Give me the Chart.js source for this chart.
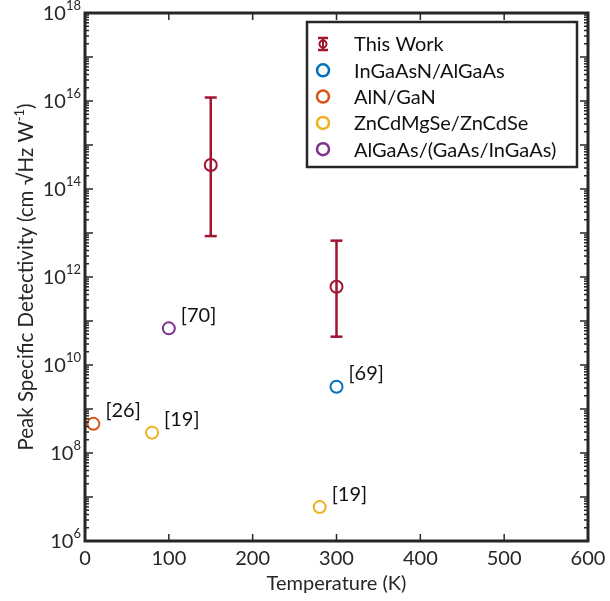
<!DOCTYPE html>
<html>
<head>
<meta charset="utf-8">
<script src="https://cdn.jsdelivr.net/npm/chart.js@4.4.1/dist/chart.umd.min.js"></script>
<style>
  html, body { margin: 0; padding: 0; background: #fff; }
</style>
</head>
<body>
<canvas id="chart" width="610" height="601"></canvas>
<script>
// values
const thisWorkTemp = [150, 300];
const thisWorkD = [3.5e14, 6.0e11];
const thisWorkLow = [8.5e12, 4.4e10];
const thisWorkHigh = [1.2e16, 6.7e12];

const inGaAsNTemp = [300];
const inGaAsND = [3.2e9];
const inGaAsNRefs = ['[69]'];

const alnTemp = [10];
const alnD = [4.6e8];
const alnRefs = ['[26]'];

const znTemp = [80, 280];
const znD = [2.9e8, 5.9e6];
const znRefs = ['[19]', '[19]'];

const alGaAsTemp = [100];
const alGaAsD = [6.8e10];
const alGaAsRefs = ['[70]'];

const seriesNames = ['This Work', 'InGaAsN/AlGaAs', 'AlN/GaN', 'ZnCdMgSe/ZnCdSe', 'AlGaAs/(GaAs/InGaAs)'];
const seriesColors = ['#A2142F', '#0072BD', '#D95319', '#EDB120', '#7E2F8E'];

const xTicks = [0, 100, 200, 300, 400, 500, 600];
const yLabelExps = [6, 8, 10, 12, 14, 16, 18];

const FONT = 'Lato, "Open Sans", sans-serif';
const INK = '#262626';

function fnt(size) {
    return size + 'px ' + FONT;
}

function pts(xs, ys) {
    return xs.map((t, i) => ({ x: t, y: ys[i] }));
}

function line(ctx, x1, y1, x2, y2) {
    ctx.beginPath();
    ctx.moveTo(x1, y1);
    ctx.lineTo(x2, y2);
    ctx.stroke();
}

function makeSet(i, xs, ys, extra) {
    return Object.assign({
        label: seriesNames[i],
        data: pts(xs, ys),
        borderColor: seriesColors[i],
        backgroundColor: 'rgba(0,0,0,0)',
        borderWidth: 2,
        pointRadius: 6,
        pointHoverRadius: 6,
        showLine: false
    }, extra || {});
}

// error bars drawn through the y scale
const errorBars = {
    id: 'errorBars',
    afterDatasetsDraw(chart) {
        const ctx = chart.ctx;
        const xs = chart.scales.x, ys = chart.scales.y;
        chart.data.datasets.forEach(ds => {
            if (!ds.errLow) return;
            ctx.save();
            ctx.strokeStyle = ds.borderColor;
            ctx.lineWidth = 2.5;
            ds.data.forEach((p, i) => {
                const px = xs.getPixelForValue(p.x);
                const top = ys.getPixelForValue(ds.errHigh[i]);
                const bot = ys.getPixelForValue(ds.errLow[i]);
                line(ctx, px, top, px, bot);
                line(ctx, px - 6, top, px + 6, top);
                line(ctx, px - 6, bot, px + 6, bot);
            });
            ctx.restore();
        });
    }
};

// frame, inward ticks, labels, legend, reference tags
const decor = {
    id: 'decor',
    afterDraw(chart) {
        const ctx = chart.ctx;
        const a = chart.chartArea;
        const xs = chart.scales.x, ys = chart.scales.y;
        ctx.save();

        // ticks
        ctx.strokeStyle = INK;
        ctx.lineWidth = 1.5;
        for (let e = 6; e < 18; e++) {
            for (let k = 1; k < 10; k++) {
                const py = ys.getPixelForValue(k * Math.pow(10, e));
                const len = k === 1 ? 8 : 4;
                line(ctx, a.left, py, a.left + len, py);
                line(ctx, a.right, py, a.right - len, py);
            }
        }
        xTicks.forEach(t => {
            const px = xs.getPixelForValue(t);
            line(ctx, px, a.bottom, px, a.bottom - 7);
            line(ctx, px, a.top, px, a.top + 7);
        });

        // frame
        ctx.lineWidth = 3;
        ctx.strokeRect(a.left, a.top, a.right - a.left, a.bottom - a.top);

        // tick labels
        ctx.fillStyle = INK;
        ctx.textBaseline = 'middle';
        ctx.textAlign = 'center';
        ctx.font = fnt(20);
        xTicks.forEach(t => {
            ctx.fillText(String(t), xs.getPixelForValue(t), a.bottom + 18);
        });
        yLabelExps.forEach(e => {
            const py = ys.getPixelForValue(Math.pow(10, e));
            ctx.font = fnt(13);
            const supW = ctx.measureText(String(e)).width;
            ctx.textAlign = 'right';
            ctx.fillText(String(e), a.left - 4, py - 7);
            ctx.font = fnt(20);
            ctx.fillText('10', a.left - 4 - supW, py + 1);
        });

        // axis titles
        ctx.textAlign = 'center';
        ctx.font = fnt(20);
        ctx.fillText('Temperature (K)', (a.left + a.right) / 2, a.bottom + 43);

        ctx.save();
        ctx.translate(26, (a.top + a.bottom) / 2);
        ctx.rotate(-Math.PI / 2);
        const main = 'Peak Specific Detectivity (cm \u221AHz W';
        ctx.font = fnt(20.5);
        const wMain = ctx.measureText(main).width;
        const wClose = ctx.measureText(')').width;
        ctx.font = fnt(13);
        const wSup = ctx.measureText('-1').width;
        let x0 = -(wMain + wSup + wClose) / 2;
        ctx.textAlign = 'left';
        ctx.font = fnt(20.5);
        ctx.fillText(main, x0, 0);
        ctx.font = fnt(13);
        ctx.fillText('-1', x0 + wMain, -6);
        ctx.font = fnt(20.5);
        ctx.fillText(')', x0 + wMain + wSup, 0);
        ctx.restore();

        // reference tags next to literature points
        ctx.fillStyle = '#111';
        ctx.font = fnt(20);
        ctx.textAlign = 'left';
        chart.data.datasets.forEach(ds => {
            if (!ds.refs) return;
            ds.data.forEach((p, i) => {
                ctx.fillText(ds.refs[i], xs.getPixelForValue(p.x) + 12, ys.getPixelForValue(p.y) - 13);
            });
        });

        // legend box
        const lx = 307, ly = 22, lw = 270, lh = 145;
        ctx.fillStyle = '#fff';
        ctx.fillRect(lx, ly, lw, lh);
        ctx.strokeStyle = INK;
        ctx.lineWidth = 2.5;
        ctx.strokeRect(lx, ly, lw, lh);
        chart.data.datasets.forEach((ds, i) => {
            const cy = 44 + i * 26.3;
            const mx = 323;
            ctx.strokeStyle = ds.borderColor;
            if (ds.errLow) {
                ctx.lineWidth = 2;
                line(ctx, mx, cy - 6, mx, cy + 6);
                ctx.lineWidth = 2.5;
                line(ctx, mx - 5, cy - 6, mx + 5, cy - 6);
                line(ctx, mx - 5, cy + 6, mx + 5, cy + 6);
                ctx.lineWidth = 2;
                ctx.beginPath();
                ctx.arc(mx, cy, 3.5, 0, Math.PI * 2);
                ctx.stroke();
            } else {
                ctx.lineWidth = 2.5;
                ctx.beginPath();
                ctx.arc(mx, cy, 6, 0, Math.PI * 2);
                ctx.stroke();
            }
            ctx.fillStyle = '#111';
            ctx.font = fnt(20);
            ctx.textAlign = 'left';
            ctx.fillText(ds.label, 354, cy + 1);
        });

        ctx.restore();
    }
};

new Chart(document.getElementById('chart'), {
    type: 'scatter',
    data: {
        datasets: [
            makeSet(0, thisWorkTemp, thisWorkD, { errLow: thisWorkLow, errHigh: thisWorkHigh }),
            makeSet(1, inGaAsNTemp, inGaAsND, { refs: inGaAsNRefs }),
            makeSet(2, alnTemp, alnD, { refs: alnRefs }),
            makeSet(3, znTemp, znD, { refs: znRefs }),
            makeSet(4, alGaAsTemp, alGaAsD, { refs: alGaAsRefs })
        ]
    },
    options: {
        responsive: false,
        animation: false,
        layout: { padding: { left: 85, top: 13, right: 22, bottom: 60 } },
        plugins: {
            legend: { display: false },
            tooltip: { enabled: false }
        },
        scales: {
            x: { type: 'linear', min: 0, max: 600, display: false },
            y: { type: 'logarithmic', min: 1e6, max: 1e18, display: false }
        }
    },
    plugins: [errorBars, decor]
});
</script>
</body>
</html>
